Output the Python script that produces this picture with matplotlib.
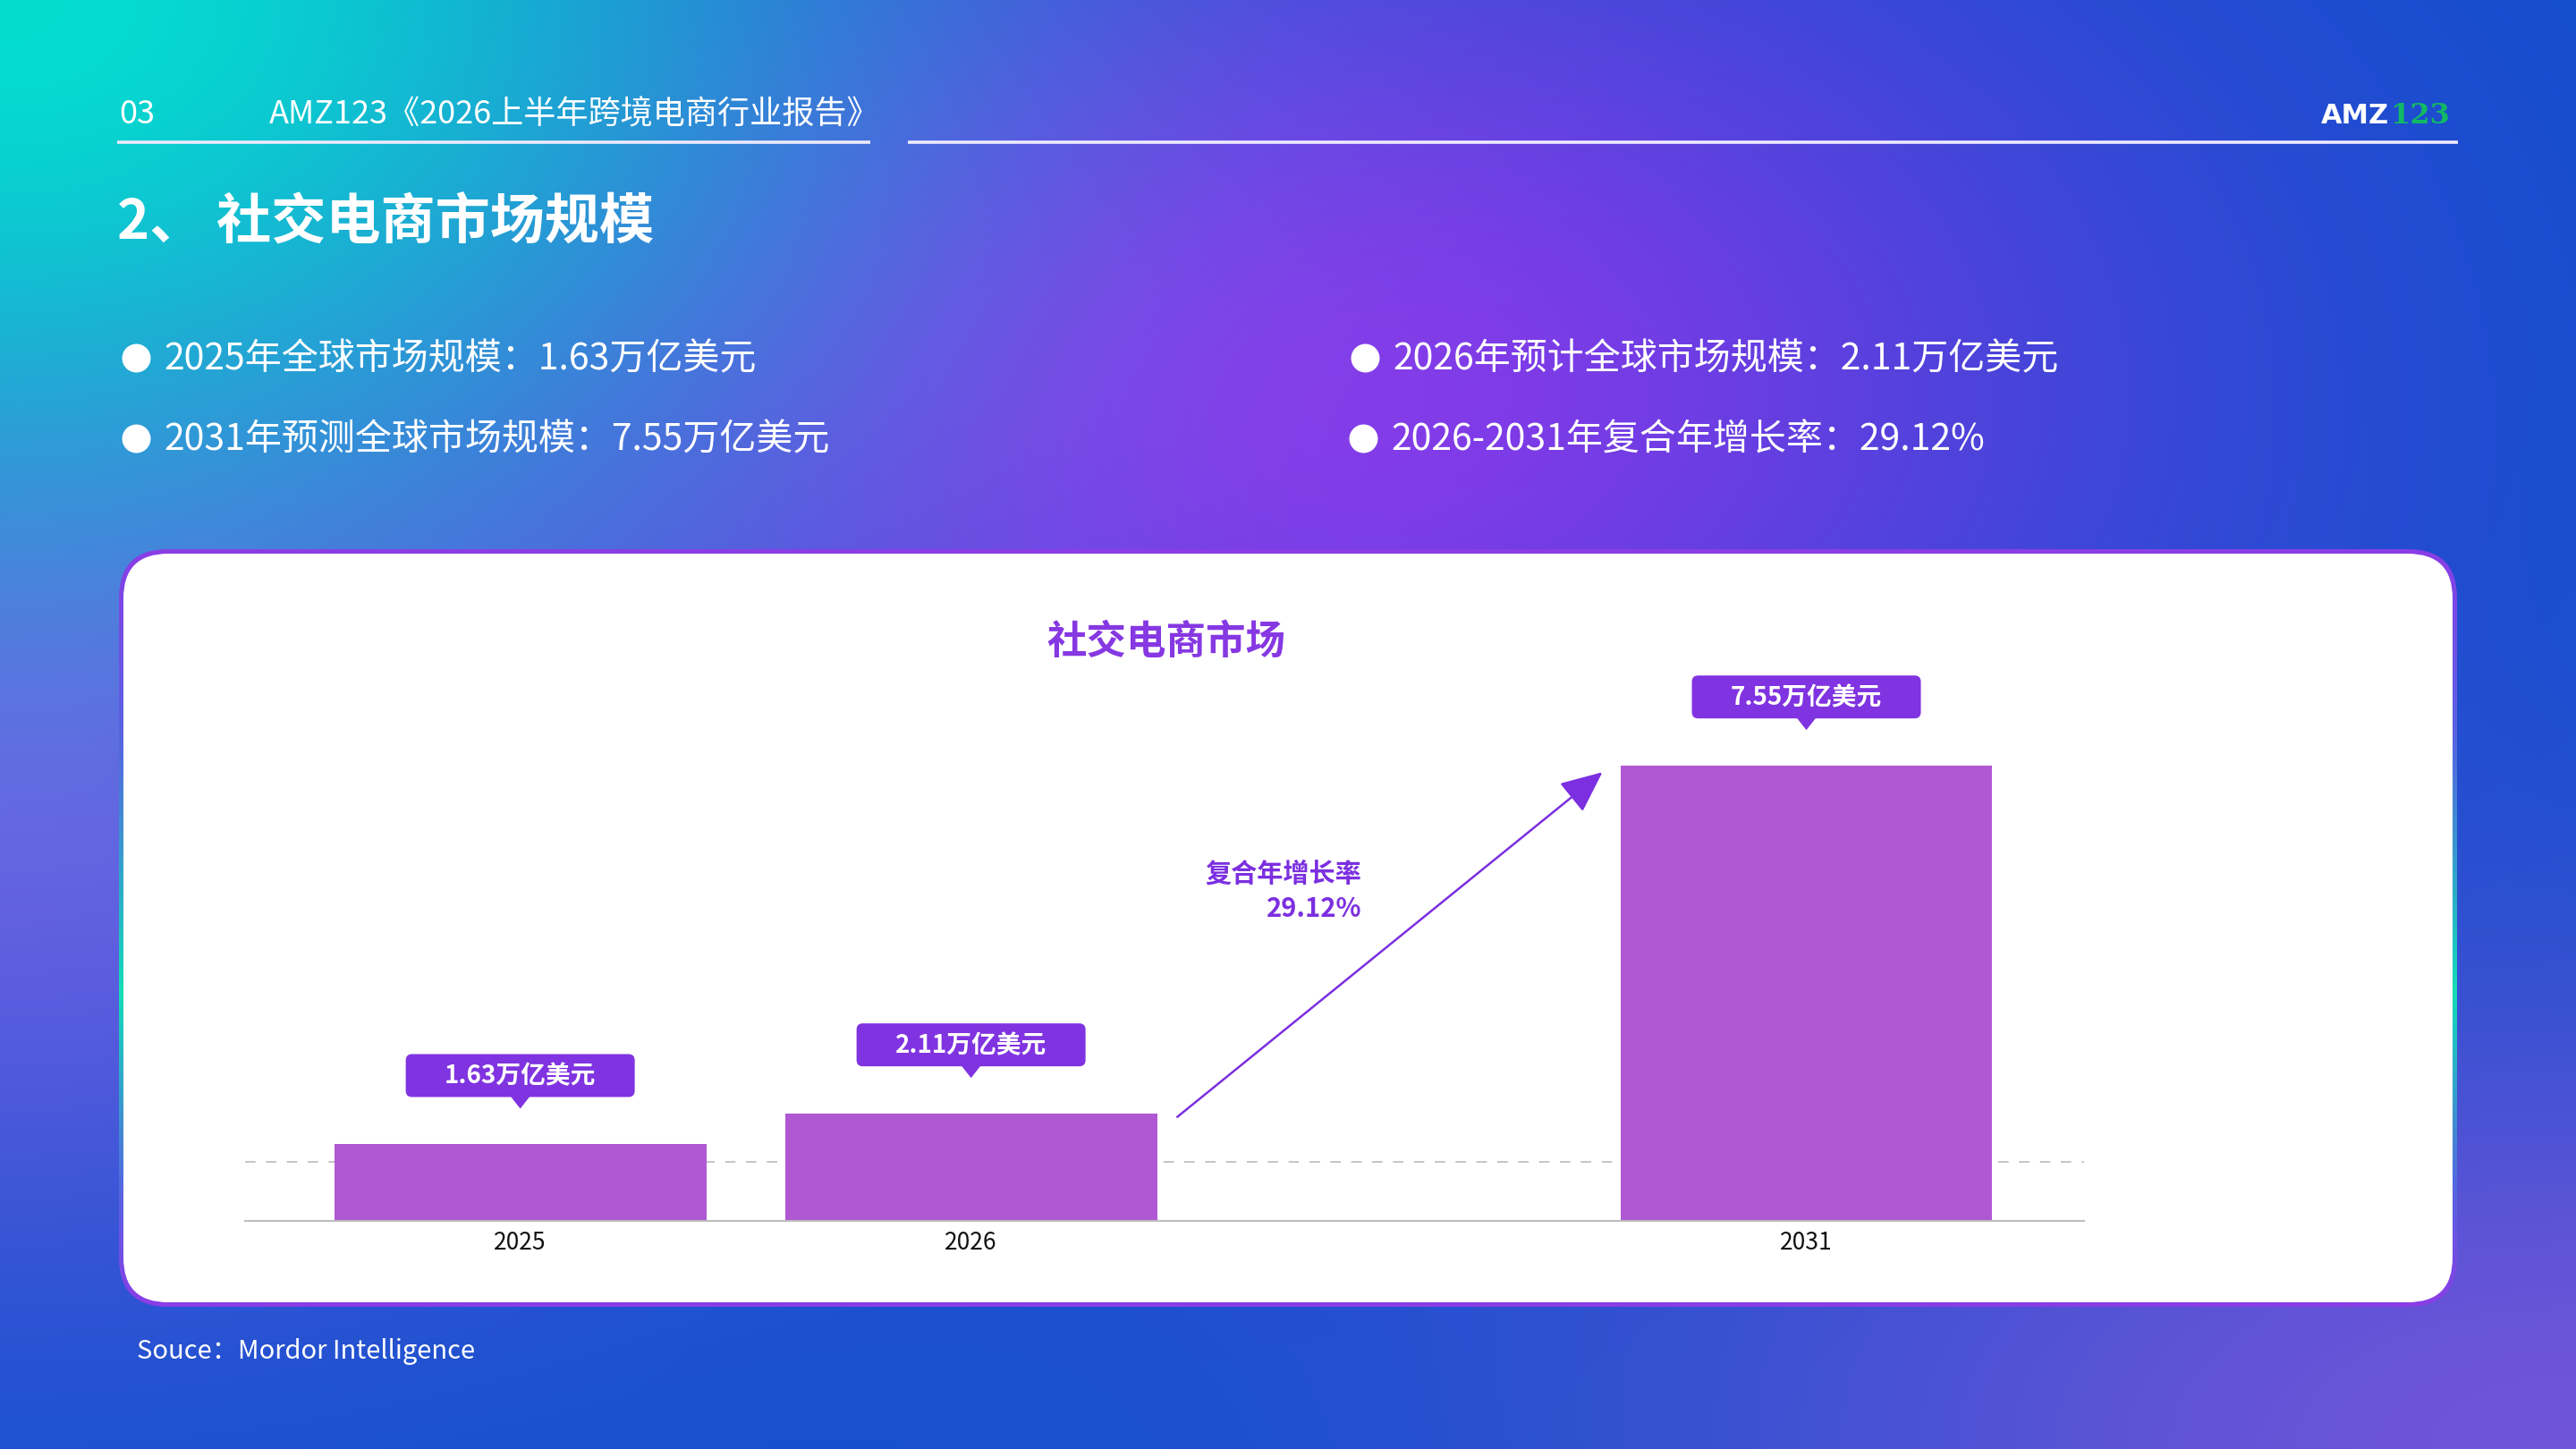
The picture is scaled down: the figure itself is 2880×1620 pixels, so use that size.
import numpy as np
import matplotlib
matplotlib.use('Agg')
import matplotlib.pyplot as plt
from matplotlib.patches import FancyBboxPatch, Polygon
import matplotlib.transforms as mtransforms

plt.rcParams['font.family'] = ['Noto Sans CJK SC', 'DejaVu Sans']

# ---------------- data ----------------
years = ['2025', '2026', '2031']
market_size = [1.63, 2.11, 7.55]          # 万亿美元
value_labels = [f'{v:.2f}万亿美元' for v in market_size]
cagr_label = '复合年增长率'
cagr_value = '29.12%'
bullets_left = ['2025年全球市场规模：1.63万亿美元', '2031年预测全球市场规模：7.55万亿美元']
bullets_right = ['2026年预计全球市场规模：2.11万亿美元', '2026-2031年复合年增长率：29.12%']
chart_title = '社交电商市场'
page_no = '03'
report_title = 'AMZ123《2026上半年跨境电商行业报告》'
section_title = '2、 社交电商市场规模'
source_text = 'Souce：Mordor Intelligence'
ref_level = 1.36

# ---------------- layout ----------------
W, H = 2880, 1620
x_pos = [0.0, 1.0, 2.853]
bar_w = 0.825
PURPLE = '#8033E0'
BAR = '#B058D3'

fig = plt.figure(figsize=(W / 100, H / 100), dpi=100)


def hexrgb(h):
    return np.array([int(h[i:i + 2], 16) for i in (1, 3, 5)], dtype=np.float32) / 255


# background gradient
yy, xx = np.mgrid[0:H, 0:W].astype(np.float32)
img = np.ones((H, W, 3), dtype=np.float32) * hexrgb('#0E50CC')


def blob(cx, cy, sx, sy, color, strength):
    a = strength * np.exp(-(((xx - cx) / sx) ** 2 + ((yy - cy) / sy) ** 2) / 2)
    img[:] = img * (1 - a[..., None]) + hexrgb(color) * a[..., None]


blob(1420, 430, 680, 420, '#8A36EA', 1.0)
blob(0, 830, 600, 420, '#7A5CE6', 0.9)
blob(2880, 1620, 750, 380, '#7A55DA', 0.9)
blob(0, 0, 650, 430, '#05DDD0', 1.0)

ax_bg = fig.add_axes([0, 0, 1, 1], zorder=0)
ax_bg.imshow(img, extent=[0, W, H, 0], aspect='auto', zorder=0)
ax_bg.set_xlim(0, W)
ax_bg.set_ylim(H, 0)
ax_bg.axis('off')

# header
ax_bg.text(133, 128, page_no, color='white', fontsize=26, va='center', ha='left', fontweight='medium')
ax_bg.text(301, 128, report_title, color='white', fontsize=26, va='center', ha='left', fontweight='medium')
ax_bg.plot([131, 973], [159, 159], color='#EEEAFF', lw=2.6, solid_capstyle='butt', zorder=3)
ax_bg.plot([1015, 2748], [159, 159], color='#EEEAFF', lw=2.6, solid_capstyle='butt', zorder=3)
ax_bg.text(2671, 129, 'AMZ', color='white', fontsize=22, fontweight='bold', va='center', ha='right',
           family=['DejaVu Sans'])
ax_bg.text(2672, 129, '123', color='#12B865', fontsize=23, fontweight='bold', va='center', ha='left',
           family=['DejaVu Serif'])

# section title
ax_bg.text(131, 250, section_title, color='white', fontsize=44, fontweight='bold', va='center', ha='left')

# bullets
rows_y = [402, 492]
for i, t in enumerate(bullets_left):
    ax_bg.plot([152], [rows_y[i] - 2], 'o', color='white', ms=23, mec='none')
    ax_bg.text(183, rows_y[i], t, color='white', fontsize=29.5, va='center', ha='left')
for i, t in enumerate(bullets_right):
    bx = [1526, 1524][i]
    ax_bg.plot([bx], [rows_y[i] - 2], 'o', color='white', ms=23, mec='none')
    ax_bg.text(bx + 31, rows_y[i], t, color='white', fontsize=29.5, va='center', ha='left')

# card with gradient border
cx0, cy0, cx1, cy1 = 133, 614, 2747, 1461
outer = FancyBboxPatch((cx0, cy0), cx1 - cx0, cy1 - cy0,
                       boxstyle='round,pad=0,rounding_size=55', fc='none', ec='none', zorder=2)
ax_bg.add_patch(outer)
ys = np.linspace(cy0, cy1, 400)
stops_y = [cy0, 830, 1110, 1330, cy1]
stops_c = [hexrgb(c) for c in ['#8B3DE6', '#5566E0', '#12DDB8', '#5566E0', '#8B3DE6']]
grad = np.stack([np.interp(ys, stops_y, [c[k] for c in stops_c]) for k in range(3)], axis=-1)
grad = np.repeat(grad[:, None, :], 4, axis=1)
gim = ax_bg.imshow(grad, extent=[cx0, cx1, cy1, cy0], aspect='auto', zorder=2)
gim.set_clip_path(outer)
bw = 5
inner = FancyBboxPatch((cx0 + bw, cy0 + bw), cx1 - cx0 - 2 * bw, cy1 - cy0 - 2 * bw,
                       boxstyle='round,pad=0,rounding_size=50', fc='white', ec='none', zorder=3)
ax_bg.add_patch(inner)

# chart title
ax_bg.text(1304, 718, chart_title, color='#8638E2', fontsize=32, fontweight='bold', va='center', ha='center',
           zorder=5)

# cagr text
ax_bg.text(1522, 977, cagr_label, color='#7B2FE0', fontsize=21, va='center', ha='right', fontweight='semibold',
           zorder=5)
ax_bg.text(1522, 1016, cagr_value, color='#7B2FE0', fontsize=21, va='center', ha='right', fontweight='semibold',
           zorder=5)

# source
ax_bg.text(153, 1511, source_text, color='white', fontsize=21, va='center', ha='left')

# ---------------- chart ----------------
base_px, top_px, left_px, right_px = 1365, 700, 273.7, 2330
px_per_unit = 71.5
y_floor = 0.434
ax = fig.add_axes([left_px / W, (H - base_px) / H, (right_px - left_px) / W, (base_px - top_px) / H], zorder=1)
ax.patch.set_alpha(0)
ax.set_xlim(-0.611, 3.469)
ax.set_ylim(y_floor, y_floor + (base_px - top_px) / px_per_unit)

ax.axhline(ref_level, color='#BBBBBB', lw=1.2, ls=(0, (7, 7)), zorder=1)
ax.bar(x_pos, market_size, width=bar_w, bottom=0, color=BAR, zorder=2)

for s in ['top', 'right', 'left']:
    ax.spines[s].set_visible(False)
ax.spines['bottom'].set_color('#BDBDBD')
ax.spines['bottom'].set_linewidth(1.5)
ax.spines['bottom'].set_zorder(3)
ax.set_yticks([])
ax.set_xticks(x_pos)
ax.set_xticklabels(years, fontsize=19, color='#111111')
ax.tick_params(axis='x', length=0, pad=8)

# value callouts
for x, v, lab in zip(x_pos, market_size, value_labels):
    tr = mtransforms.ScaledTranslation(x, v, ax.transData)
    box = FancyBboxPatch((-128, 53), 256, 48, boxstyle='round,pad=0,rounding_size=7',
                         fc=PURPLE, ec='none', transform=tr, clip_on=False, zorder=6)
    ax.add_patch(box)
    tri = Polygon([(-11, 54), (11, 54), (0, 40)], closed=True, fc=PURPLE, ec='none',
                  transform=tr, clip_on=False, zorder=6)
    ax.add_patch(tri)
    ax.text(0, 76, lab, transform=tr, ha='center', va='center', color='white', fontsize=20,
            fontweight='bold', zorder=7, clip_on=False)

# growth arrow
start = (x_pos[1] + bar_w / 2 + 0.045, market_size[1] - 0.05)
end = (x_pos[2] - bar_w / 2 - 0.04, market_size[2] - 0.1)
ax.annotate('', xy=end, xytext=start,
            arrowprops=dict(arrowstyle='-|>,head_length=2.9,head_width=1.3', mutation_scale=10,
                            color='#7B2FE0', lw=1.8, shrinkA=0, shrinkB=0), zorder=5)

fig.savefig('out.png', dpi=100)
